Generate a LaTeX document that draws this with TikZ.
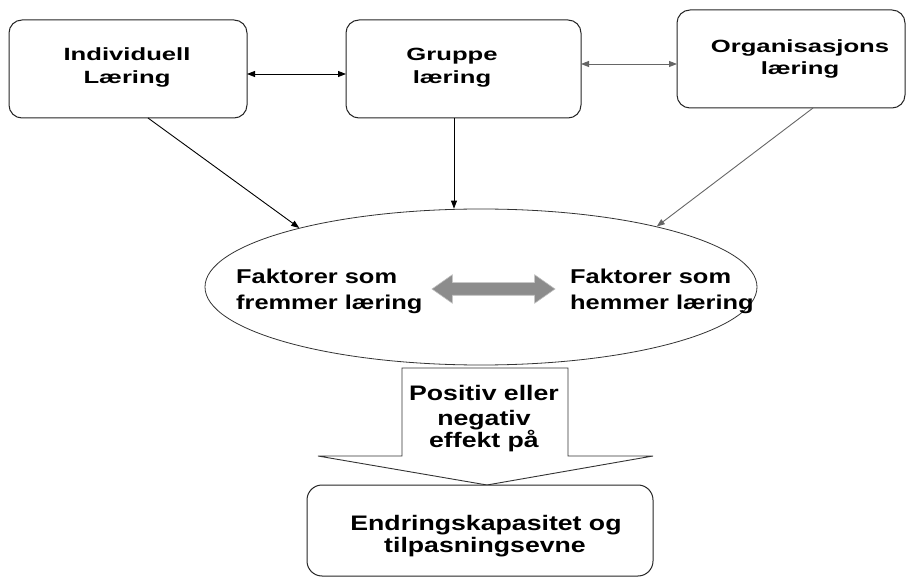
\documentclass[tikz,border=0pt]{standalone}
\usepackage{fontspec}
\setmainfont{Liberation Sans}
\newfontfamily\topfnt[FakeStretch=1.45]{Liberation Sans}
\newfontfamily\mainfnt[FakeStretch=1.27]{Liberation Sans}
\usetikzlibrary{calc,arrows.meta,shapes.geometric,shapes.arrows}

\tikzset{
  box/.style={draw=black!85, line width=1pt, rounded corners=13pt, fill=white,
    inner sep=0pt, outer sep=0pt},
  toptxt/.style={anchor=base, inner sep=0pt, font=\topfnt\bfseries\fontsize{17.7}{21}\selectfont},
  midtxt/.style={anchor=base west, inner sep=0pt, font=\mainfnt\bfseries\fontsize{20}{24}\selectfont},
  lowtxt/.style={anchor=base, inner sep=0pt, font=\mainfnt\bfseries\fontsize{21}{24}\selectfont},
  link/.style={line width=0.9pt, draw=black},
  softlink/.style={line width=0.9pt, draw=black!60},
  tip/.style={-{Triangle[length=8pt,width=6pt]}},
  twotips/.style={{Triangle[length=8pt,width=6pt]}-{Triangle[length=8pt,width=6pt]}},
}

\begin{document}
\begin{tikzpicture}[x=1pt,y=-1pt]
\useasboundingbox (0,0) rectangle (906,580);

% three kinds of learning
\node[box, minimum width=238pt, minimum height=98pt] (ind) at (128,69) {};
\node[box, minimum width=235pt, minimum height=98pt] (gru) at (463.5,69) {};
\node[box, minimum width=228pt, minimum height=98pt] (org) at (791,59) {};

\node[toptxt] (ind1) at (127,61) {Individuell};
\node[toptxt] (ind2) at (127,84) {Læring};
\node[toptxt] (gru1) at (452,61) {Gruppe};
\node[toptxt] (gru2) at (452,84) {læring};
\node[toptxt] (org1) at (800,53) {Organisasjons};
\node[toptxt] (org2) at (800,75) {læring};

% links between the levels
\draw[link, twotips] ([yshift=-5pt]ind.east) -- ([yshift=-5pt]gru.west);
\draw[softlink, twotips] ([yshift=5pt]gru.east) -- ([yshift=-5pt]org.west);

% factors
\node[ellipse, draw=black!80, line width=0.8pt, minimum width=552pt,
      minimum height=156pt, inner sep=0pt] (ell) at (481,287) {};

\node[midtxt] (l1) at (236,284) {Faktorer som};
\node[midtxt] (l2) at (236,310) {fremmer læring};
\node[midtxt] (r1) at (570,284) {Faktorer som};
\node[midtxt] (r2) at (570,310) {hemmer læring};

% grey two-way arrow between the two kinds of factors
\node[double arrow, fill=black!45, draw=black!25, line width=0.6pt,
      minimum height=123pt, inner xsep=0pt, inner ysep=6pt,
      text height=0pt, text depth=0pt,
      double arrow head extend=8pt, double arrow tip angle=70] (dbl) at (493.5,289) {};

% arrows from the levels into the factors
\coordinate (indout) at ($(ind.south)+(20,0)$);
\coordinate (gruout) at ($(gru.south)+(-9.5,0)$);
\coordinate (orgout) at ($(org.south)+(22,0)$);
\draw[link, tip] (indout) -- (ell.162);
\draw[link, tip] (gruout) -- (gruout |- ell.north);
\draw[softlink, tip] (orgout) -- (ell.19);

% block arrow down to the outcome
\draw[draw=black!80, line width=0.9pt, fill=white]
  (402,368) -- (402,456) -- (318,456) -- (487,485) -- (653,456)
  -- (568,456) -- (568,368) -- cycle;

\node[lowtxt] (e1) at (484,400) {Positiv eller};
\node[lowtxt] (e2) at (484,425) {negativ};
\node[lowtxt] (e3) at (484,447) {effekt på};

% outcome
\node[box, rounded corners=15pt, minimum width=346pt, minimum height=91pt] (res) at (480,530.5) {};
\node[lowtxt] (res1) at (486,530) {Endringskapasitet og};
\node[lowtxt] (res2) at (485,552) {tilpasningsevne};
\end{tikzpicture}
\end{document}
